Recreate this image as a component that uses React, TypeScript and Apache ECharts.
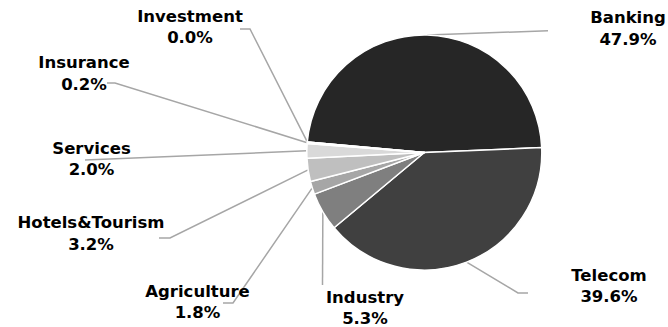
import React, { useEffect, useRef } from "react";
import * as echarts from "echarts";

const categories = [
  "Banking",
  "Telecom",
  "Industry",
  "Agriculture",
  "Hotels&Tourism",
  "Services",
  "Insurance",
  "Investment",
];
const shares = [47.9, 39.6, 5.3, 1.8, 3.2, 2.0, 0.2, 0.0];
const sliceColors = [
  "#262626",
  "#404040",
  "#7f7f7f",
  "#a6a6a6",
  "#bfbfbf",
  "#d9d9d9",
  "#f2f2f2",
  "#ffffff",
];

// label layout: label centre, leader-line elbow and end (pixels)
const labelCenters = [
  [628, 28.5],
  [609, 286],
  [365, 308],
  [197.5, 302],
  [91, 233.5],
  [91.5, 159],
  [84, 73.5],
  [190, 27],
];
const leaderElbows = [
  [548, 30.7],
  [518, 293],
  [322.5, 285],
  [233, 303],
  [170, 238],
  [85, 160],
  [115, 83],
  [250, 29],
];
const leaderEnds = [
  [548, 30.7],
  [528, 293],
  [322.5, 285],
  [223, 303],
  [159, 238],
  [85, 160],
  [107, 83],
  [240, 29],
];

export default function App() {
  const ref = useRef<HTMLDivElement>(null);

  useEffect(() => {
    document.body.style.margin = "0";
    if (!ref.current) return;
    const chart = echarts.init(ref.current, null, { renderer: "svg" });
    const data = categories.map((name, i) => ({
      name,
      value: shares[i],
      itemStyle: { color: sliceColors[i] },
    }));
    chart.setOption({
      animation: false,
      backgroundColor: "#ffffff",
      series: [
        {
          type: "pie",
          center: [424.3, 152.5],
          radius: 117.5,
          startAngle: 174.84,
          clockwise: true,
          avoidLabelOverlap: false,
          data,
          itemStyle: { borderColor: "#ffffff", borderWidth: 1.5 },
          label: {
            show: true,
            position: "outer",
            formatter: (p: any) => `${p.name}\n${Number(p.value).toFixed(1)}%`,
            fontFamily: "DejaVu Sans",
            fontWeight: "bold",
            fontSize: 16.5,
            lineHeight: 21.5,
            color: "#000000",
            align: "center",
          },
          labelLine: {
            show: true,
            smooth: false,
            lineStyle: { color: "#a6a6a6", width: 1.5 },
          },
          labelLayout: (params: any) => {
            const i = params.dataIndex;
            const pts = params.labelLinePoints;
            const p0 = pts && pts[0] ? pts[0] : leaderElbows[i];
            return {
              x: labelCenters[i][0],
              y: labelCenters[i][1],
              align: "center",
              verticalAlign: "middle",
              labelLinePoints: [p0, leaderElbows[i], leaderEnds[i]],
            };
          },
        },
      ],
    });
    return () => chart.dispose();
  }, []);

  return (
    <div
      ref={ref}
      style={{ position: "absolute", left: 0, top: 0, width: 668, height: 327 }}
    />
  );
}
